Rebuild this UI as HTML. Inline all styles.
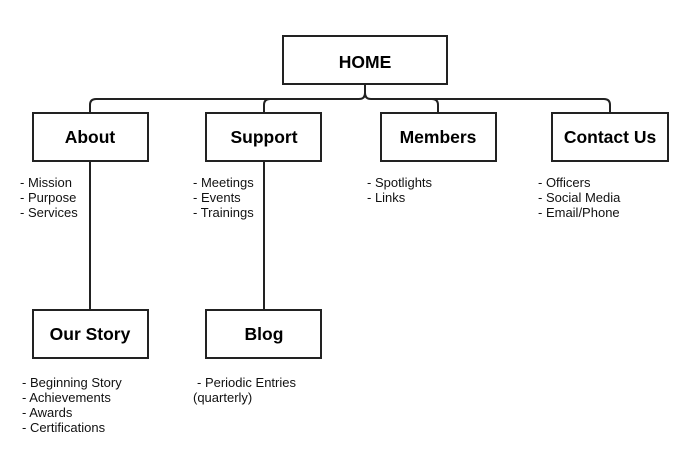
<!DOCTYPE html>
<html><head><meta charset="utf-8"><style>
html,body{margin:0;padding:0;background:#fff;}
svg{display:block;}
.b{font-family:"Liberation Sans",Arial,sans-serif;font-weight:bold;font-size:17.5px;fill:#000;}
.t{font-family:"Liberation Sans",Arial,sans-serif;font-size:13px;fill:#111;}
</style></head><body>
<svg width="700" height="454" viewBox="0 0 700 454" xmlns="http://www.w3.org/2000/svg">
<g fill="none" stroke="#222" stroke-width="2">
<path d="M90 113 V105 Q90 99 96 99 H359 Q365 99 365 93 V84 M365 93 Q365 99 371 99 H604 Q610 99 610 105 V113"/>
<path d="M264 113 V105 Q264 99 270 99"/>
<path d="M438 113 V105 Q438 99 432 99"/>
<line x1="90" y1="161" x2="90" y2="310"/>
<line x1="264" y1="161" x2="264" y2="310"/>
<rect x="283" y="36" width="164" height="48" fill="#fff"/>
<rect x="33" y="113" width="115" height="48" fill="#fff"/>
<rect x="206" y="113" width="115" height="48" fill="#fff"/>
<rect x="381" y="113" width="115" height="48" fill="#fff"/>
<rect x="552" y="113" width="116" height="48" fill="#fff"/>
<rect x="33" y="310" width="115" height="48" fill="#fff"/>
<rect x="206" y="310" width="115" height="48" fill="#fff"/>
</g>
<g class="b" text-anchor="middle">
<text x="365" y="68">HOME</text>
<text x="90" y="143">About</text>
<text x="264" y="143">Support</text>
<text x="438" y="143">Members</text>
<text x="610" y="143">Contact Us</text>
<text x="90" y="340">Our Story</text>
<text x="264" y="340">Blog</text>
</g>
<g class="t">
<text x="20" y="187">- Mission</text><text x="20" y="202">- Purpose</text><text x="20" y="217">- Services</text>
<text x="193" y="187">- Meetings</text><text x="193" y="202">- Events</text><text x="193" y="217">- Trainings</text>
<text x="367" y="187">- Spotlights</text><text x="367" y="202">- Links</text>
<text x="538" y="187">- Officers</text><text x="538" y="202">- Social Media</text><text x="538" y="217">- Email/Phone</text>
<text x="22" y="387">- Beginning Story</text><text x="22" y="402">- Achievements</text><text x="22" y="417">- Awards</text><text x="22" y="432">- Certifications</text>
<text x="197" y="387">- Periodic Entries</text><text x="193" y="402">(quarterly)</text>
</g>
</svg>
</body></html>
